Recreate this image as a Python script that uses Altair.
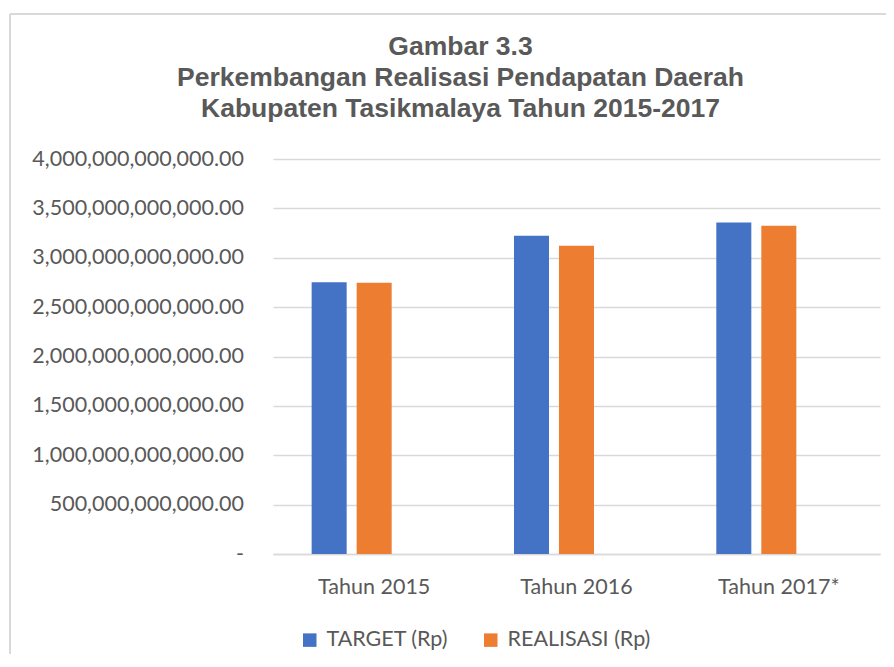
import altair as alt
import pandas as pd

categories = ["Tahun 2015", "Tahun 2016", "Tahun 2017*"]
series = ["TARGET (Rp)", "REALISASI (Rp)"]
target = [2.753e12, 3.222e12, 3.357e12]
realisasi = [2.746e12, 3.121e12, 3.324e12]
y_ticks = [0, 5e11, 1e12, 1.5e12, 2e12, 2.5e12, 3e12, 3.5e12, 4e12]
colors = ["#4472C4", "#ED7D31"]
title_lines = [
    "Gambar 3.3",
    "Perkembangan Realisasi Pendapatan Daerah",
    "Kabupaten Tasikmalaya Tahun 2015-2017",
]

rows = []
for c, t, r in zip(categories, target, realisasi):
    rows.append({"tahun": c, "seri": series[0], "nilai": t})
    rows.append({"tahun": c, "seri": series[1], "nilai": r})
df = pd.DataFrame(rows)

offset_domain = series + ["(kosong)"]
GRAY = "#595959"
GRID = "#d9d9d9"

bars = alt.Chart(df).mark_bar().encode(
    x=alt.X(
        "tahun:N",
        sort=categories,
        scale=alt.Scale(paddingInner=0.382, paddingOuter=0.191),
        axis=alt.Axis(
            title=None, labelAngle=0, labelFont="Lato", labelFontSize=21.5,
            labelColor=GRAY, labelPadding=22, ticks=False, tickSize=0,
            domain=True, domainColor=GRID, domainWidth=1.5, grid=False,
        ),
    ),
    xOffset=alt.XOffset(
        "seri:N",
        scale=alt.Scale(domain=offset_domain, paddingInner=0.2222, paddingOuter=0),
    ),
    y=alt.Y(
        "nilai:Q",
        scale=alt.Scale(domain=[0, 4e12], nice=False),
        axis=alt.Axis(
            title=None, values=y_ticks,
            labelExpr="datum.value == 0 ? '-' : format(datum.value, ',.2f')",
            labelFont="Lato", labelFontSize=21.5, labelColor=GRAY,
            labelPadding=29.5, labelLimit=400, ticks=False, tickSize=0,
            domain=False, gridColor=GRID, gridWidth=1.5,
        ),
    ),
    color=alt.Color(
        "seri:N",
        scale=alt.Scale(domain=series, range=colors),
        legend=alt.Legend(
            orient="none", legendX=26, legendY=470, direction="horizontal",
            title=None, symbolType="square", symbolSize=182,
            symbolStrokeWidth=0, labelFont="Lato", labelFontSize=21.5,
            labelColor=GRAY, labelOffset=6, columnPadding=31, padding=0,
            labelLimit=400,
        ),
    ),
)

one = alt.Data(values=[{"a": 1}])
border_top = alt.Chart(one).mark_rule(color=GRID, strokeWidth=2).encode(
    x=alt.value(-263), x2=alt.value(700), y=alt.value(-145)
)
border_left = alt.Chart(one).mark_rule(color=GRID, strokeWidth=2).encode(
    x=alt.value(-263), y=alt.value(-145), y2=alt.value(560)
)

chart = alt.layer(border_top, border_left, bars).properties(
    width=607,
    height=395,
    padding={"left": 265, "top": 151, "right": 6, "bottom": 100},
    autosize=alt.AutoSizeParams(type="none"),
    title=alt.TitleParams(
        text=title_lines, font="Liberation Sans", fontSize=26.5,
        fontWeight="bold", color=GRAY, anchor="middle", frame="group",
        dx=-116, lineHeight=31, offset=-109,
    ),
).configure_view(stroke=None)

chart.save("out.html", embed_options={"renderer": "svg", "actions": False})
